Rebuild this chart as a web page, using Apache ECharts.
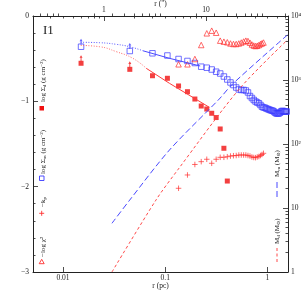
<!DOCTYPE html>
<html><head><meta charset="utf-8">
<script src="https://cdn.jsdelivr.net/npm/echarts@6/dist/echarts.min.js"></script>
<style>html,body{margin:0;padding:0;background:#fff}#c{width:305px;height:305px}</style>
</head><body><div id="c"></div>
<script>
// ---------- data ----------
const rAll = [0.015,0.045,0.075,0.105,0.135,0.165,0.195,0.225,0.255,0.285,0.315,0.345,0.375,0.405,0.435,0.465,0.495,0.525,0.555,0.585,0.615,0.645,0.675,0.705,0.735,0.765,0.795,0.825,0.855,0.885,0.915,0.945,0.975,1.005,1.035,1.065,1.095,1.125,1.155,1.185,1.215,1.245,1.275,1.305,1.335,1.365,1.395,1.425,1.455,1.485,1.515,1.545];
const logSigmaM = [-0.36,-0.41,-0.437,-0.463,-0.504,-0.527,-0.551,-0.594,-0.606,-0.627,-0.653,-0.674,-0.709,-0.744,-0.779,-0.809,-0.838,-0.861,-0.867,-0.867,-0.873,-0.896,-0.938,-0.961,-0.984,-1.002,-1.014,-1.023,-1.043,-1.063,-1.072,-1.075,-1.084,-1.09,-1.096,-1.102,-1.107,-1.11,-1.119,-1.131,-1.14,-1.143,-1.143,-1.14,-1.131,-1.119,-1.113,-1.113,-1.119,-1.121,-1.121,-1.119];
const rD = [0.015,0.045,0.075,0.105,0.135,0.165,0.195,0.225,0.255,0.285,0.315,0.345,0.375,0.405];
const logSigmaD = [-0.554,-0.625,-0.70,-0.73,-0.82,-0.887,-0.973,-1.055,-1.09,-1.14,-1.19,-1.324,-1.55,-1.934];
const rFit = [0.135,0.165,0.195,0.225,0.255,0.285,0.315,0.345,0.375,0.405,0.435,0.465,0.495,0.525,0.555,0.585,0.615,0.645,0.675,0.705,0.735,0.765,0.795,0.825,0.855,0.885,0.915];
const negLogChi2 = [-0.566,-0.566,-0.504,-0.34,-0.203,-0.172,-0.196,-0.289,-0.301,-0.308,-0.322,-0.328,-0.328,-0.322,-0.311,-0.299,-0.289,-0.293,-0.313,-0.334,-0.346,-0.352,-0.348,-0.340,-0.328,-0.32,-0.311];
const negK = [-2.019,-1.863,-1.740,-1.707,-1.679,-1.726,-1.679,-1.656,-1.656,-1.649,-1.641,-1.637,-1.635,-1.629,-1.629,-1.629,-1.629,-1.635,-1.641,-1.652,-1.658,-1.66,-1.652,-1.646,-1.635,-1.623,-1.609];
const rLimit = [0.015,0.045];
const limitSigmaM = [-0.36,-0.41];
const limitSigmaD = [-0.554,-0.625];
// model profiles
const rModelMDot = [0.0149,0.0228,0.0332,0.0449,0.0603];
const modelMDot = [-0.308,-0.313,-0.332,-0.36,-0.407];
const rModelMSolid = [0.0603,0.110,0.22];
const modelMSolid = [-0.407,-0.496,-0.586];
const rModelDDot = [0.0149,0.0228,0.0332,0.0482,0.0652];
const modelDDot = [-0.345,-0.36,-0.418,-0.496,-0.613];
const rModelDSolid = [0.0652,0.110,0.270];
const modelDSolid = [-0.613,-0.789,-1.07];
// enclosed masses
const rMassM = [0.0301,0.0449,0.110,0.338,0.456,1.567];
const massM = [5.77,13.3,80.5,505,866,5045];
const rMassD = [0.0301,0.0811,0.1324,0.530,1.567];
const massD = [1.0,13.3,39.3,723,4217];
// ticks
const xTickLabels = [0.01,0.1,1];
const xMinorTicks = [0.006,0.007,0.008,0.009,0.02,0.03,0.04,0.05,0.06,0.07,0.08,0.09,0.2,0.3,0.4,0.5,0.6,0.7,0.8,0.9,1.5];
const topTickLabels = [1,10];
const topMinorTicks = [0.3,0.4,0.5,0.6,0.7,0.8,0.9,2,3,4,5,6,7,8,9,20,30,40,50,60];
const rightTickLabels = [1,10,100,1000,10000];
const rightMinorTicks = [2,3,4,5,6,7,8,9,20,30,40,50,60,70,80,90,200,300,400,500,600,700,800,900,2000,3000,4000,5000,6000,7000,8000,9000];

// ---------- chart ----------
const SERIF = '"Liberation Serif","DejaVu Serif",serif';
const AX = '#222';
const BLUE = '#3a3aff', RED = '#f01010';
const xMin = 0.00508, xMax = 1.59, pcPerArcsec = 0.02512;
const pairs = (xs, ys) => xs.map((x, i) => [x, ys[i]]);
const lbl = {fontSize: 7.5, fontFamily: SERIF, color: AX};

function xAxisPair(min, max, pos, labels, minors, fmt, name, nameGap, margin) {
  return [
    {type: 'log', logBase: 10, min, max, position: pos,
     axisLine: {show: true, onZero: false, lineStyle: {color: AX, width: 1}},
     axisTick: {show: true, inside: true, length: 5, customValues: labels, lineStyle: {color: AX, width: 0.8}},
     axisLabel: Object.assign({show: true, customValues: labels, formatter: fmt, margin}, lbl),
     splitLine: {show: false},
     name, nameLocation: 'middle', nameGap, nameMoveOverlap: false,
     nameTextStyle: {fontSize: 7.5, fontFamily: SERIF, color: AX}},
    {type: 'log', logBase: 10, min, max, position: pos,
     axisLine: {show: false},
     axisTick: {show: true, inside: true, length: 2.5, customValues: minors, lineStyle: {color: AX, width: 0.8}},
     axisLabel: {show: false}, splitLine: {show: false}}
  ];
}
const fmtBottom = v => v < 0.05 ? '0.01' : (v < 0.5 ? '0.1' : '1');
const fmtTop = v => v < 5 ? '1' : '10';
const supers = ['1', '10', '10²', '10³', '10⁴'];
const fmtRight = v => supers[Math.round(Math.log10(v))];

const xAxes = [].concat(
  xAxisPair(xMin, xMax, 'bottom', xTickLabels, xMinorTicks, fmtBottom, 'r (pc)', 10, 2),
  xAxisPair(xMin / pcPerArcsec, xMax / pcPerArcsec, 'top', topTickLabels, topMinorTicks, fmtTop, 'r (")', 8, 2)
);

const yAxes = [
  {type: 'value', min: -3, max: 0, interval: 1, position: 'left',
   axisLine: {show: true, onZero: false, lineStyle: {color: AX, width: 1}},
   axisTick: {show: true, inside: true, length: 5, lineStyle: {color: AX, width: 0.8}},
   minorTick: {show: true, splitNumber: 5, length: 2.5, lineStyle: {color: AX, width: 0.8}},
   axisLabel: Object.assign({formatter: v => v === 0 ? '0' : '\u2212' + Math.abs(v), margin: 4}, lbl),
   splitLine: {show: false}},
  {type: 'log', logBase: 10, min: 1, max: 10000, position: 'right',
   axisLine: {show: true, onZero: false, lineStyle: {color: AX, width: 1}},
   axisTick: {show: true, inside: true, length: 5, customValues: rightTickLabels, lineStyle: {color: AX, width: 0.8}},
   axisLabel: Object.assign({customValues: rightTickLabels, formatter: fmtRight, margin: 3}, lbl),
   splitLine: {show: false}},
  {type: 'log', logBase: 10, min: 1, max: 10000, position: 'right',
   axisLine: {show: false},
   axisTick: {show: true, inside: true, length: 2.5, customValues: rightMinorTicks, lineStyle: {color: AX, width: 0.8}},
   axisLabel: {show: false}, splitLine: {show: false}}
];

const plusPath = 'path://M0,5L10,5M5,0L5,10';
const arrowPath = 'path://M5,0L10,6L6.5,6L6.5,14L3.5,14L3.5,6L0,6Z';

const series = [
  {type: 'line', name: 'model m dotted', data: pairs(rModelMDot, modelMDot), showSymbol: false, smooth: true,
   lineStyle: {color: '#5a5aff', width: 1, type: [1, 1.6]}},
  {type: 'line', name: 'model m', data: pairs(rModelMSolid, modelMSolid), showSymbol: false,
   lineStyle: {color: '#4a4aff', width: 1}},
  {type: 'line', name: 'model d dotted', data: pairs(rModelDDot, modelDDot), showSymbol: false, smooth: true,
   lineStyle: {color: '#ff6a6a', width: 1, type: [1, 1.6]}},
  {type: 'line', name: 'model d', data: pairs(rModelDSolid, modelDSolid), showSymbol: false,
   lineStyle: {color: '#ff3a3a', width: 1}},
  {type: 'line', name: 'M_m', xAxisIndex: 0, yAxisIndex: 1, data: pairs(rMassM, massM), showSymbol: false, smooth: 0.3,
   lineStyle: {color: '#4848ff', width: 1, type: [6, 3]}},
  {type: 'line', name: 'M_d', xAxisIndex: 0, yAxisIndex: 1, data: pairs(rMassD, massD), showSymbol: false, smooth: 0.3,
   lineStyle: {color: '#ff4a4a', width: 1, type: [3, 2.5]}},
  {type: 'scatter', name: 'Sigma_m', data: pairs(rAll, logSigmaM), symbol: 'rect', symbolSize: 5.5,
   itemStyle: {color: 'rgba(0,0,0,0)', borderColor: BLUE, borderWidth: 0.9}},
  {type: 'scatter', name: 'Sigma_d', data: pairs(rD, logSigmaD), symbol: 'rect', symbolSize: 5,
   itemStyle: {color: RED}},
  {type: 'scatter', name: 'chi2', data: pairs(rFit, negLogChi2), symbol: 'triangle', symbolSize: 5.5,
   itemStyle: {color: 'rgba(0,0,0,0)', borderColor: '#ff3030', borderWidth: 0.9}},
  {type: 'scatter', name: 'k', data: pairs(rFit, negK), symbol: plusPath, symbolSize: 5.5,
   itemStyle: {color: 'rgba(0,0,0,0)', borderColor: '#ff3030', borderWidth: 0.9}},
  {type: 'scatter', name: 'limit m', data: pairs(rLimit, limitSigmaM), symbol: arrowPath, symbolSize: [3, 6], symbolOffset: [0, -5],
   itemStyle: {color: BLUE}},
  {type: 'scatter', name: 'limit d', data: pairs(rLimit, limitSigmaD), symbol: arrowPath, symbolSize: [3, 6], symbolOffset: [0, -5],
   itemStyle: {color: RED}}
];

const rich = {
  n: {fontSize: 7, fontFamily: SERIF, color: AX, lineHeight: 9},
  s: {fontSize: 5, fontFamily: SERIF, color: AX, lineHeight: 9, padding: [4, 0, 0, 0]},
  u: {fontSize: 5, fontFamily: SERIF, color: AX, lineHeight: 9, padding: [0, 0, 3, 0]}
};
function vtext(x, y, text) {
  return {type: 'text', x, y, rotation: Math.PI / 2, z: 100,
    style: {text, rich, align: 'left', verticalAlign: 'middle', fill: AX}};
}
const graphic = [
  {type: 'text', x: 43, y: 24, z: 100, style: {text: 'I1', fontSize: 13, fontFamily: SERIF, fill: AX}},
  vtext(43, 102, '{n|log Σ}{s|d}{n| (g cm}{u|−2}{n|)}'),
  {type: 'rect', shape: {x: 39.5, y: 106, width: 4.5, height: 4.5}, z: 100, style: {fill: RED}},
  vtext(43, 174, '{n|log Σ}{s|m}{n| (g cm}{u|−2}{n|)}'),
  {type: 'rect', shape: {x: 39.5, y: 176, width: 4.5, height: 4.5}, z: 100, style: {fill: 'none', stroke: BLUE, lineWidth: 0.9}},
  vtext(43, 207, '{n|−k}{s|ρ}'),
  {type: 'group', x: 41.7, y: 213.3, z: 100, children: [
    {type: 'line', shape: {x1: -2.5, y1: 0, x2: 2.5, y2: 0}, style: {stroke: '#ff3030', lineWidth: 0.9}},
    {type: 'line', shape: {x1: 0, y1: -2.5, x2: 0, y2: 2.5}, style: {stroke: '#ff3030', lineWidth: 0.9}}]},
  vtext(43, 257, '{n|−log χ}{u|2}'),
  {type: 'polygon', z: 100, shape: {points: [[41.7, 259.3], [44.2, 263.7], [39.2, 263.7]]}, style: {fill: 'none', stroke: '#ff3030', lineWidth: 0.9}},
  vtext(277, 177, '{n|M}{s|m}{n| (M}{s|⊙}{n|)}'),
  {type: 'line', z: 100, shape: {x1: 277, y1: 182, x2: 277, y2: 200}, style: {stroke: '#4848ff', lineWidth: 1, lineDash: [6, 3]}},
  vtext(277, 244, '{n|M}{s|d}{n| (M}{s|⊙}{n|)}'),
  {type: 'line', z: 100, shape: {x1: 277, y1: 248, x2: 277, y2: 264}, style: {stroke: '#ff4a4a', lineWidth: 1, lineDash: [3, 2.5]}}
];

const chart = echarts.init(document.getElementById('c'), null, {renderer: 'canvas'});
chart.setOption({
  animation: false,
  backgroundColor: '#fff',
  grid: {left: 33, right: 17, top: 16, bottom: 33, containLabel: false, outerBoundsMode: 'none'},
  xAxis: xAxes,
  yAxis: yAxes,
  series,
  graphic
});
</script></body></html>
